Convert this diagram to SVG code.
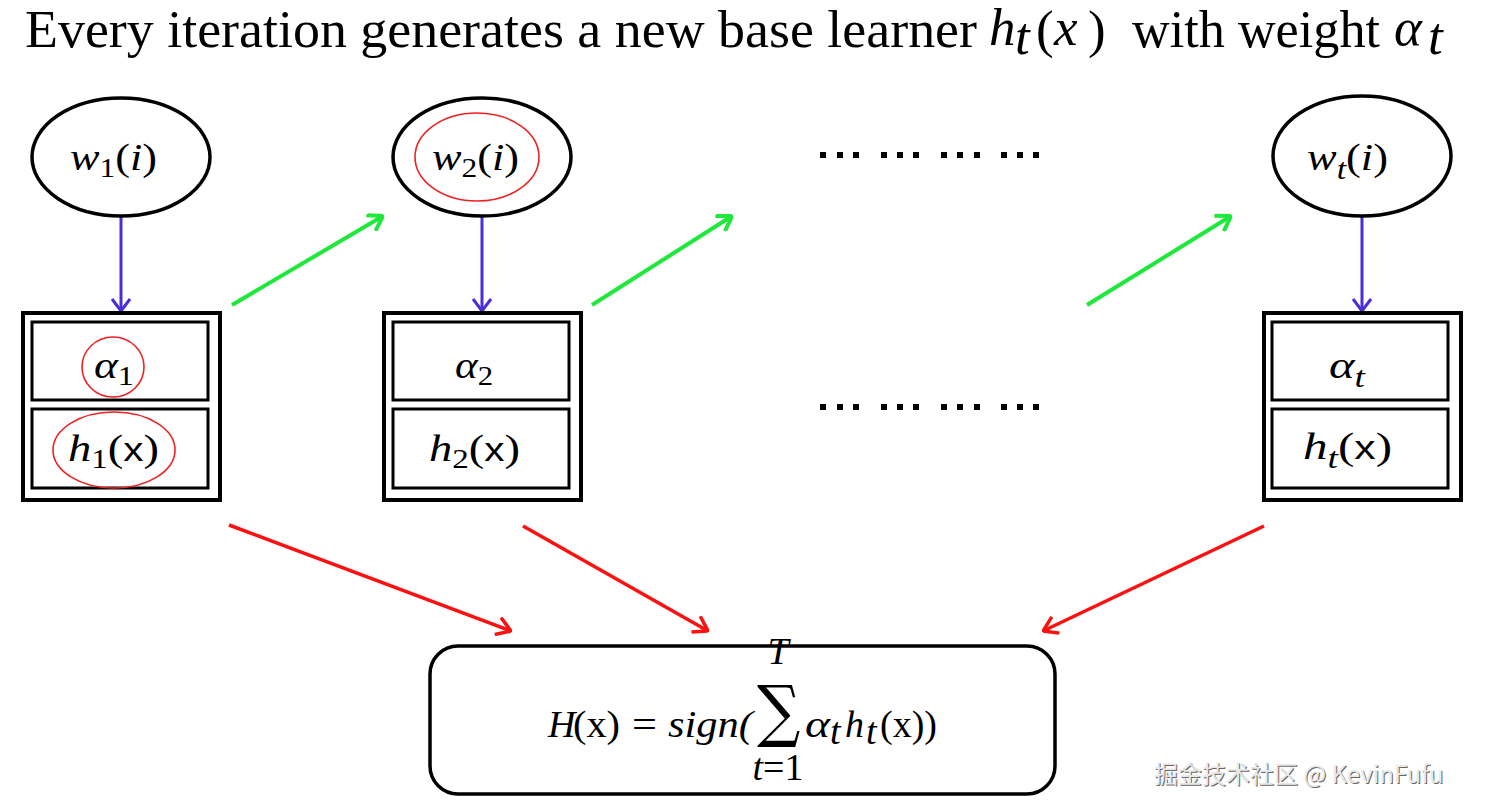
<svg xmlns="http://www.w3.org/2000/svg" width="1485" height="811" viewBox="0 0 1485 811">
<defs>
<style>
.title{font-family:"Liberation Serif","Times New Roman",serif;font-size:53px;fill:#000}
.m{font-family:"Liberation Serif","Times New Roman",serif;font-size:38px;fill:#000}
.it{font-style:italic}
.sx{font-family:"Liberation Sans",Arial,sans-serif}
.node{fill:#fff;stroke:#000;stroke-width:3.5}
.outer{fill:#fff;stroke:#000;stroke-width:4}
.inner{fill:#fff;stroke:#000;stroke-width:3}
.hl{fill:none;stroke:#f02020;stroke-width:1.6}
.blue{stroke:#4a2fd8;stroke-width:3;fill:none}
.green{stroke:#1ee83a;stroke-width:4;fill:none}
.red{stroke:#ff1010;stroke-width:3.5;fill:none}
.dot{fill:#000}
.wm{font-family:"Noto Sans CJK SC","Noto Sans",sans-serif;font-size:24px}
</style>
<marker id="mb" viewBox="0 0 14 20" refX="13" refY="10" markerWidth="14" markerHeight="20" markerUnits="userSpaceOnUse" orient="auto"><path d="M1,1 L13,10 L1,19" fill="none" stroke="#4a2fd8" stroke-width="3"/></marker>
<marker id="mg" viewBox="0 0 16 20" refX="15" refY="10" markerWidth="16" markerHeight="20" markerUnits="userSpaceOnUse" orient="auto"><path d="M1,1 L15,10 L1,19" fill="none" stroke="#1ee83a" stroke-width="4"/></marker>
<marker id="mr" viewBox="0 0 16 20" refX="15" refY="10" markerWidth="16" markerHeight="20" markerUnits="userSpaceOnUse" orient="auto"><path d="M1,1 L15,10 L1,19" fill="none" stroke="#ff1010" stroke-width="3.5"/></marker>
</defs>
<rect width="1485" height="811" fill="#fff"/>

<g id="title">
<text class="title" x="25" y="47" textLength="952" lengthAdjust="spacingAndGlyphs">Every iteration generates a new base learner</text>
<text class="title it" x="989" y="45" font-size="48">h</text>
<text class="title it" x="1015" y="54" font-size="32">t</text>
<text class="title" x="1036" y="47" font-size="50">(</text>
<text class="title it" x="1054" y="45" font-size="50">x</text>
<text class="title" x="1088" y="47" font-size="50">)</text>
<text class="title" x="1132" y="47" textLength="248" lengthAdjust="spacingAndGlyphs">with weight</text>
<text class="title it" x="1394" y="45" font-size="50">α</text>
<text class="title it" x="1428" y="54" font-size="32">t</text>
</g>

<g id="connectors">
<line class="blue" x1="121" y1="217" x2="121" y2="311" marker-end="url(#mb)"/>
<line class="blue" x1="482" y1="217" x2="482" y2="311" marker-end="url(#mb)"/>
<line class="blue" x1="1362" y1="217" x2="1362" y2="311" marker-end="url(#mb)"/>
<line class="green" x1="232" y1="305" x2="383" y2="216" marker-end="url(#mg)"/>
<line class="green" x1="592" y1="305" x2="732" y2="216" marker-end="url(#mg)"/>
<line class="green" x1="1087" y1="305" x2="1231" y2="216" marker-end="url(#mg)"/>
<line class="red" x1="229" y1="525" x2="511" y2="631" marker-end="url(#mr)"/>
<line class="red" x1="523" y1="526" x2="708" y2="631" marker-end="url(#mr)"/>
<line class="red" x1="1264" y1="526" x2="1043" y2="631" marker-end="url(#mr)"/>
</g>

<g id="w1">
<ellipse class="node" cx="121" cy="157" rx="89" ry="59"/>
<text class="m" x="70" y="170" textLength="87" lengthAdjust="spacingAndGlyphs"><tspan class="it">w</tspan><tspan font-size="27" dy="7">1</tspan><tspan dy="-7">(</tspan><tspan class="it">i</tspan>)</text>
</g>
<g id="w2">
<ellipse class="node" cx="482" cy="157" rx="89" ry="59"/>
<ellipse class="hl" cx="477" cy="157" rx="62" ry="44"/>
<text class="m" x="432" y="170" textLength="87" lengthAdjust="spacingAndGlyphs"><tspan class="it">w</tspan><tspan font-size="27" dy="7">2</tspan><tspan dy="-7">(</tspan><tspan class="it">i</tspan>)</text>
</g>
<g id="wt">
<ellipse class="node" cx="1362" cy="156" rx="89" ry="60"/>
<text class="m" x="1307" y="170" textLength="81" lengthAdjust="spacingAndGlyphs"><tspan class="it">w</tspan><tspan class="it" font-size="29" dy="9">t</tspan><tspan dy="-9">(</tspan><tspan class="it">i</tspan>)</text>
</g>

<g id="learner1">
<rect class="outer" x="23" y="313" width="197" height="187"/>
<rect class="inner" x="32" y="322" width="176" height="78"/>
<rect class="inner" x="32" y="409" width="176" height="79"/>
<ellipse class="hl" cx="113" cy="367" rx="31" ry="30"/>
<ellipse class="hl" cx="114" cy="450" rx="61" ry="38"/>
<text class="m" x="94" y="378" textLength="40" lengthAdjust="spacingAndGlyphs"><tspan class="it">α</tspan><tspan font-size="27" dy="7">1</tspan></text>
<text class="m" x="68" y="461" textLength="91" lengthAdjust="spacingAndGlyphs"><tspan class="it">h</tspan><tspan font-size="27" dy="7">1</tspan><tspan dy="-7">(</tspan><tspan class="sx" font-size="33">x</tspan>)</text>
</g>
<g id="learner2">
<rect class="outer" x="384" y="313" width="197" height="187"/>
<rect class="inner" x="393" y="322" width="176" height="78"/>
<rect class="inner" x="393" y="409" width="176" height="79"/>
<text class="m" x="455" y="378" textLength="38" lengthAdjust="spacingAndGlyphs"><tspan class="it">α</tspan><tspan font-size="27" dy="7">2</tspan></text>
<text class="m" x="429" y="461" textLength="91" lengthAdjust="spacingAndGlyphs"><tspan class="it">h</tspan><tspan font-size="27" dy="7">2</tspan><tspan dy="-7">(</tspan><tspan class="sx" font-size="33">x</tspan>)</text>
</g>
<g id="learnert">
<rect class="outer" x="1264" y="313" width="197" height="187"/>
<rect class="inner" x="1272" y="322" width="176" height="78"/>
<rect class="inner" x="1272" y="409" width="176" height="79"/>
<text class="m" x="1329" y="378" textLength="36" lengthAdjust="spacingAndGlyphs"><tspan class="it">α</tspan><tspan class="it" font-size="29" dy="9">t</tspan></text>
<text class="m" x="1303" y="459" textLength="89" lengthAdjust="spacingAndGlyphs"><tspan class="it">h</tspan><tspan class="it" font-size="29" dy="9">t</tspan><tspan dy="-9">(</tspan><tspan class="sx" font-size="33">x</tspan>)</text>
</g>

<g id="dots">
<rect class="dot" x="820" y="152" width="6" height="6"/><rect class="dot" x="837" y="152" width="6" height="6"/><rect class="dot" x="853" y="152" width="6" height="6"/>
<rect class="dot" x="881" y="152" width="6" height="6"/><rect class="dot" x="897" y="152" width="6" height="6"/><rect class="dot" x="913" y="152" width="6" height="6"/>
<rect class="dot" x="941" y="152" width="6" height="6"/><rect class="dot" x="957" y="152" width="6" height="6"/><rect class="dot" x="974" y="152" width="6" height="6"/>
<rect class="dot" x="1001" y="152" width="6" height="6"/><rect class="dot" x="1017" y="152" width="6" height="6"/><rect class="dot" x="1033" y="152" width="6" height="6"/>
<rect class="dot" x="820" y="404" width="6" height="6"/><rect class="dot" x="837" y="404" width="6" height="6"/><rect class="dot" x="853" y="404" width="6" height="6"/>
<rect class="dot" x="881" y="404" width="6" height="6"/><rect class="dot" x="897" y="404" width="6" height="6"/><rect class="dot" x="913" y="404" width="6" height="6"/>
<rect class="dot" x="941" y="404" width="6" height="6"/><rect class="dot" x="957" y="404" width="6" height="6"/><rect class="dot" x="974" y="404" width="6" height="6"/>
<rect class="dot" x="1001" y="404" width="6" height="6"/><rect class="dot" x="1017" y="404" width="6" height="6"/><rect class="dot" x="1033" y="404" width="6" height="6"/>
</g>

<g id="final">
<rect class="node" x="430" y="646" width="625" height="148" rx="28"/>
<text class="m it" x="548" y="737">H</text>
<text class="m" x="573" y="737" textLength="47" lengthAdjust="spacingAndGlyphs">(x)</text>
<text class="m" x="632" y="737" textLength="25" lengthAdjust="spacingAndGlyphs">=</text>
<text class="m it" x="668" y="737" textLength="85" lengthAdjust="spacingAndGlyphs">sign(</text>
<text x="0" y="0" font-family="DejaVu Serif, serif" font-size="62" transform="translate(757,734) scale(0.98,1.1)">∑</text>
<text class="m it" x="778" y="664" font-size="22" text-anchor="middle">T</text>
<text class="m" x="778" y="780" font-size="23" text-anchor="middle"><tspan class="it">t</tspan>=1</text>
<text class="m it" x="805" y="737" textLength="25" lengthAdjust="spacingAndGlyphs">α</text>
<text class="m it" x="830" y="744" font-size="26">t</text>
<text class="m it" x="845" y="737">h</text>
<text class="m it" x="866" y="744" font-size="26">t</text>
<text class="m" x="880" y="737" textLength="57" lengthAdjust="spacingAndGlyphs">(x))</text>
</g>

<g id="watermark">
<text class="wm" x="1155" y="784" fill="#666">掘金技术社区 @ KevinFufu</text>
<text class="wm" x="1154" y="783" fill="#e8e8e8">掘金技术社区 @ KevinFufu</text>
</g>
</svg>
